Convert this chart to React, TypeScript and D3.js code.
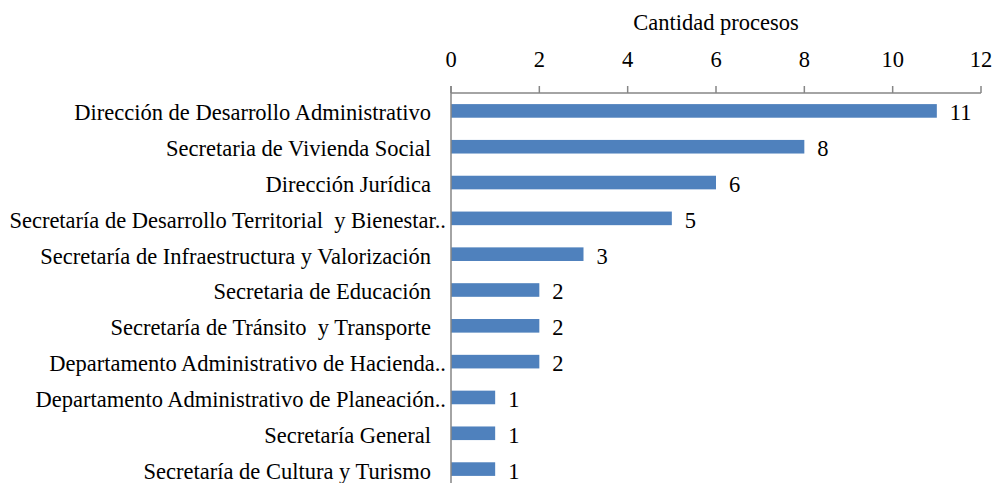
import React from 'react';
import { scaleBand, scaleLinear } from 'd3';

const width = 995;
const height = 483;
const margins = { top: 93, bottom: -4, left: 451, right: 14 };

const categories = [
  'Dirección de Desarrollo Administrativo',
  'Secretaria de Vivienda Social',
  'Dirección Jurídica',
  'Secretaría de Desarrollo Territorial  y Bienestar..',
  'Secretaría de Infraestructura y Valorización',
  'Secretaria de Educación',
  'Secretaría de Tránsito  y Transporte',
  'Departamento Administrativo de Hacienda..',
  'Departamento Administrativo de Planeación..',
  'Secretaría General',
  'Secretaría de Cultura y Turismo',
];
const values = [11, 8, 6, 5, 3, 2, 2, 2, 1, 1, 1];
const ticks = [0, 2, 4, 6, 8, 10, 12];
const axisTitle = 'Cantidad procesos';

const font = '"Liberation Serif", "Times New Roman", serif';
const fs = 22.5;

export default function App() {
  const xScale = scaleLinear()
    .domain([0, 12])
    .range([margins.left, width - margins.right]);

  const yScale = scaleBand()
    .domain(categories)
    .range([margins.top, height - margins.bottom])
    .paddingInner(0.62)
    .paddingOuter(0.31);

  const axisColor = '#868686';

  return (
    <svg
      width={width}
      height={height}
      style={{ position: 'absolute', left: 0, top: 0, background: '#fff' }}
      fontFamily={font}
    >
      <text x={(xScale(0) + xScale(12)) / 2} y={30} textAnchor="middle" fontSize={fs} fill="#000">
        {axisTitle}
      </text>
      {ticks.map((t) => (
        <g key={t}>
          <text x={xScale(t)} y={67} textAnchor="middle" fontSize={fs} fill="#000">
            {t}
          </text>
          <line x1={xScale(t)} x2={xScale(t)} y1={margins.top - 7} y2={margins.top} stroke={axisColor} strokeWidth={1.5} />
        </g>
      ))}
      <line x1={xScale(0)} x2={xScale(12)} y1={margins.top} y2={margins.top} stroke={axisColor} strokeWidth={1.5} />
      {categories.map((c, i) => (
        <g key={c}>
          <rect
            x={xScale(0)}
            y={yScale(c)}
            width={xScale(values[i]) - xScale(0)}
            height={yScale.bandwidth()}
            fill="#4F81BD"
          />
          <text
            x={xScale(values[i]) + 13}
            y={(yScale(c) ?? 0) + yScale.bandwidth() / 2}
            dy="0.42em"
            fontSize={fs}
            fill="#000"
          >
            {values[i]}
          </text>
          <text
            x={c.endsWith('..') ? 446 : 431}
            y={(yScale(c) ?? 0) + yScale.bandwidth() / 2}
            dy="0.42em"
            textAnchor="end"
            fontSize={fs}
            fill="#000"
            style={{ whiteSpace: 'pre' }}
          >
            {c}
          </text>
        </g>
      ))}
      <line x1={xScale(0)} x2={xScale(0)} y1={margins.top - 7} y2={height} stroke={axisColor} strokeWidth={1.5} />
    </svg>
  );
}
